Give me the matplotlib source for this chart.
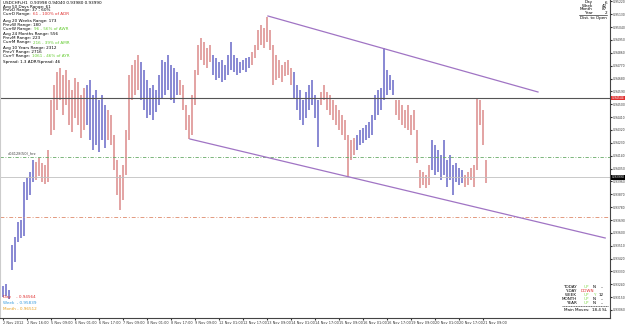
import matplotlib
matplotlib.use("Agg")
import matplotlib.pyplot as plt
import matplotlib.transforms as mtransforms

# USDCHFi H1 (one entry per 2 hours)
highs = [0.93228, 0.93242, 0.93200, 0.93515, 0.93571, 0.93676, 0.93690, 0.93956, 0.93984, 0.94026,
         0.94110, 0.94096, 0.94124, 0.94089, 0.94075, 0.94180, 0.94530, 0.94635, 0.94726, 0.94754,
         0.94705, 0.94740, 0.94670, 0.94600, 0.94684, 0.94656, 0.94565, 0.94614, 0.94635, 0.94670,
         0.94565, 0.94600, 0.94530, 0.94565, 0.94495, 0.94460, 0.94425, 0.94285, 0.94110, 0.94005,
         0.94075, 0.94320, 0.94705, 0.94775, 0.94810, 0.94845, 0.94796, 0.94740, 0.94670, 0.94614,
         0.94635, 0.94600, 0.94705, 0.94810, 0.94796, 0.94845, 0.94775, 0.94754, 0.94726, 0.94670,
         0.94635, 0.94495, 0.94425, 0.94565, 0.94740, 0.94915, 0.94964, 0.94936, 0.94894, 0.94915,
         0.94845, 0.94824, 0.94796, 0.94810, 0.94775, 0.94845, 0.94936, 0.94845, 0.94824, 0.94796,
         0.94810, 0.94824, 0.94831, 0.94866, 0.94915, 0.95020, 0.95055, 0.95034, 0.95111, 0.95020,
         0.94915, 0.94845, 0.94810, 0.94775, 0.94796, 0.94810, 0.94754, 0.94726, 0.94635, 0.94600,
         0.94530, 0.94586, 0.94635, 0.94670, 0.94565, 0.94530, 0.94586, 0.94635, 0.94586, 0.94565,
         0.94530, 0.94495, 0.94460, 0.94425, 0.94390, 0.94285, 0.94250, 0.94264, 0.94285, 0.94320,
         0.94334, 0.94355, 0.94376, 0.94425, 0.94565, 0.94600, 0.94614, 0.94894, 0.94740, 0.94705,
         0.94670, 0.94530, 0.94530, 0.94495, 0.94460, 0.94495, 0.94425, 0.94460, 0.94320, 0.94040,
         0.94026, 0.94005, 0.94075, 0.94250, 0.94215, 0.94180, 0.94145, 0.94250, 0.94110, 0.94145,
         0.94075, 0.94089, 0.94054, 0.94040, 0.94005, 0.94026, 0.94054, 0.94075, 0.94544, 0.94530,
         0.94460, 0.94110]
lows = [0.93151, 0.93158, 0.93137, 0.93340, 0.93396, 0.93536, 0.93564, 0.93578, 0.93830, 0.93865,
        0.93956, 0.93970, 0.93998, 0.93956, 0.93942, 0.93956, 0.94285, 0.94320, 0.94460, 0.94530,
        0.94425, 0.94495, 0.94355, 0.94306, 0.94404, 0.94355, 0.94264, 0.94320, 0.94355, 0.94250,
        0.94180, 0.94215, 0.94166, 0.94250, 0.94194, 0.94250, 0.94215, 0.94040, 0.93865, 0.93760,
        0.93830, 0.94005, 0.94250, 0.94530, 0.94565, 0.94600, 0.94530, 0.94460, 0.94404, 0.94425,
        0.94390, 0.94446, 0.94495, 0.94544, 0.94565, 0.94600, 0.94530, 0.94509, 0.94565, 0.94565,
        0.94460, 0.94320, 0.94257, 0.94285, 0.94495, 0.94705, 0.94810, 0.94775, 0.94754, 0.94796,
        0.94705, 0.94670, 0.94684, 0.94656, 0.94670, 0.94705, 0.94740, 0.94726, 0.94705, 0.94719,
        0.94740, 0.94726, 0.94754, 0.94775, 0.94824, 0.94880, 0.94915, 0.94894, 0.94936, 0.94880,
        0.94635, 0.94670, 0.94684, 0.94656, 0.94698, 0.94705, 0.94635, 0.94544, 0.94460, 0.94390,
        0.94355, 0.94404, 0.94460, 0.94495, 0.94404, 0.94201, 0.94495, 0.94530, 0.94460, 0.94425,
        0.94390, 0.94355, 0.94320, 0.94285, 0.94250, 0.93991, 0.94110, 0.94145, 0.94180, 0.94215,
        0.94229, 0.94250, 0.94264, 0.94285, 0.94390, 0.94425, 0.94460, 0.94530, 0.94565, 0.94600,
        0.94565, 0.94425, 0.94390, 0.94355, 0.94334, 0.94320, 0.94285, 0.94320, 0.94089, 0.93914,
        0.93935, 0.93914, 0.93935, 0.94040, 0.94005, 0.94026, 0.93970, 0.94005, 0.93921, 0.93970,
        0.93865, 0.93956, 0.93935, 0.93949, 0.93921, 0.93935, 0.93970, 0.93921, 0.94040, 0.94355,
        0.94215, 0.93949]
color_runs = [("up", 11), ("down", 17), ("up", 7), ("down", 11), ("up", 13), ("down", 11),
              ("up", 13), ("down", 14), ("up", 9), ("down", 12), ("up", 13), ("down", 12),
              ("up", 11), ("down", 8)]
bar_colors = {"up": "#7474cc", "down": "#de9393"}

time_labels = ["2 Nov 2012", "2 Nov 16:00", "5 Nov 09:00", "6 Nov 01:00", "6 Nov 17:00",
               "7 Nov 09:00", "8 Nov 01:00", "8 Nov 17:00", "9 Nov 09:00", "12 Nov 01:00",
               "12 Nov 17:00", "13 Nov 09:00", "14 Nov 01:00", "14 Nov 17:00", "15 Nov 09:00",
               "16 Nov 01:00", "16 Nov 17:00", "19 Nov 09:00", "20 Nov 01:00", "20 Nov 17:00",
               "21 Nov 09:00"]

yday_high = 0.94544
hrz_level = 0.94131
bid_price = 0.93990
pivot_level = 0.93711
upper_channel_x = [88.3, 178.3]
upper_channel_y = [0.95118, 0.94586]
lower_channel_x = [62.3, 200.7]
lower_channel_y = [0.94257, 0.93564]

price_ticks = [round(0.95220 - 0.0009 * k, 5) for k in range(25)]

W, H = 625, 325
fig = plt.figure(figsize=(W / 100, H / 100), dpi=100)
ax = fig.add_axes([0, 7 / H, 610 / W, 318 / H])

colors = []
for name, n in color_runs:
    colors += [bar_colors[name]] * n
xs = list(range(len(highs)))
ax.vlines(xs, lows, highs, colors=colors, linewidth=1.2)

ax.axhline(yday_high, color="#555555", lw=0.8)
ax.axhline(hrz_level, color="#66aa66", lw=0.6, ls=(0, (4, 2, 1, 2)))
ax.axhline(bid_price, color="#c0c0c0", lw=0.6)
ax.axhline(pivot_level, color="#e39a80", lw=0.7, ls=(0, (4, 2, 1, 2)))
ax.plot(upper_channel_x, upper_channel_y, color="#a074c4", lw=0.9)
ax.plot(lower_channel_x, lower_channel_y, color="#a074c4", lw=0.9)

ax.set_xlim(-1, 202.3)
ax.set_ylim(0.93004, 0.95230)

ax.yaxis.tick_right()
ax.set_yticks(price_ticks)
ax.set_yticklabels([f"{p:.5f}" for p in price_ticks])
ax.tick_params(axis="y", labelsize=2.2, length=1.5, pad=0.8, colors="#333333")
ax.set_xticks([8 * k for k in range(len(time_labels))])
ax.set_xticklabels(time_labels)
ax.tick_params(axis="x", labelsize=2.5, length=1.5, pad=0.5, colors="#333333")
for lab in ax.get_xticklabels():
    lab.set_horizontalalignment("left")
ax.spines["top"].set_visible(False)
ax.spines["left"].set_color("#cccccc")
ax.spines["right"].set_color("#444444")
ax.spines["bottom"].set_color("#444444")
ax.spines["right"].set_linewidth(0.8)
ax.spines["bottom"].set_linewidth(0.8)

# price boxes on the right axis
tr = mtransforms.blended_transform_factory(ax.transAxes, ax.transData)
ax.text(1.003, yday_high, f"{yday_high:.5f}", transform=tr, fontsize=2.2, color="white",
        va="center", ha="left", bbox=dict(boxstyle="square,pad=0.15", fc="#e03030", ec="none"))
ax.text(1.003, bid_price, f"{bid_price:.5f}", transform=tr, fontsize=2.2, color="white",
        va="center", ha="left", bbox=dict(boxstyle="square,pad=0.15", fc="black", ec="none"))
ax.text(1.5, hrz_level + 0.00012, "x04128(50)_hrz", fontsize=2.6, color="#444444", va="bottom")


def px_text(x, y, s, color="black", ha="left", size=3.0):
    return fig.text(x / W, 1 - y / H, s, color=color, ha=ha, va="center", fontsize=size)


# top-left info block
info = [
    (3, [("USDCHFi,H1  0.93998 0.94040 0.93980 0.93990", "black")]),
    (7, [("Avg 50 Days Range: 61", "black")]),
    (10.5, [("PrevD Range: 37 - 60%", "black")]),
    (14, [("CurrD Range: ", "black"), ("61 - 100% of ADR", "#e03030")]),
    (21, [("Avg 20 Weeks Range: 173", "black")]),
    (25, [("PrevW Range: 180", "black")]),
    (29, [("CurrW Range: ", "black"), ("96 - 56% of AWR", "#66cc33")]),
    (34.5, [("Avg 24 Months Range: 556", "black")]),
    (38.5, [("PrevM Range: 223", "black")]),
    (42.5, [("CurrM Range: ", "black"), ("216 - 39% of AMR", "#66cc33")]),
    (48, [("Avg 10 Years Range: 2312", "black")]),
    (52, [("PrevY Range: 2716", "black")]),
    (56, [("CurrY Range: ", "black"), ("1061 - 46% of AYR", "#66cc33")]),
    (61.5, [("Spread: 1.3 ADR/Spread: 46", "black")]),
]
for y, parts in info:
    prev = px_text(3, y, parts[0][0], parts[0][1])
    for s, c in parts[1:]:
        prev = fig.add_artist(plt.Annotation(s, xy=(1, 0.5), xycoords=prev, xytext=(0.8, 0),
                                             textcoords="offset points", color=c,
                                             fontsize=3.0, va="center", ha="left"))

# top-right block
for y, lab, val in [(2.5, "Day", "6"), (6, "Week", "42"), (9.5, "Month", "87"), (13, "Year", "2")]:
    px_text(593, y, lab, ha="right")
    px_text(607, y, val, ha="right")
fig.add_artist(plt.Line2D([579 / W, 607 / W], [1 - 15 / H, 1 - 15 / H], color="black", lw=0.4))
px_text(607, 18.5, "Dist. to Open", ha="right")

# bottom-right block
rows = [(287, "TODAY", "UP", "N", "--"), (291, "Y-DAY", "DOWN", "", ""),
        (295, "WEEK", "UP", "Y", "12"), (299, "MONTH", "UP", "N", "--"),
        (303, "YEAR", "UP", "N", "--")]
for y, lab, d, yn, n in rows:
    px_text(577, y, lab, ha="right")
    if d == "DOWN":
        px_text(594, y, d, "#e03030", ha="right")
    else:
        px_text(589, y, d, "#88dd55", ha="right")
    px_text(596, y, yn, "#88dd55" if yn == "Y" else "black", ha="right")
    px_text(604, y, n, ha="right")
fig.add_artist(plt.Line2D([562 / W, 608 / W], [1 - 306 / H, 1 - 306 / H], color="black",
                          lw=0.4, ls=(0, (2, 1))))
px_text(607, 310, "Main Moves:  18.4 SL", ha="right")

# bottom-left block
px_text(3, 297, "Day    - 0.94564", "#e03030")
px_text(3, 303, "Week  - 0.95839", "#3399dd")
px_text(3, 309, "Month - 0.96512", "#e8a020")

fig.savefig("out.png", dpi=100, facecolor="white")
